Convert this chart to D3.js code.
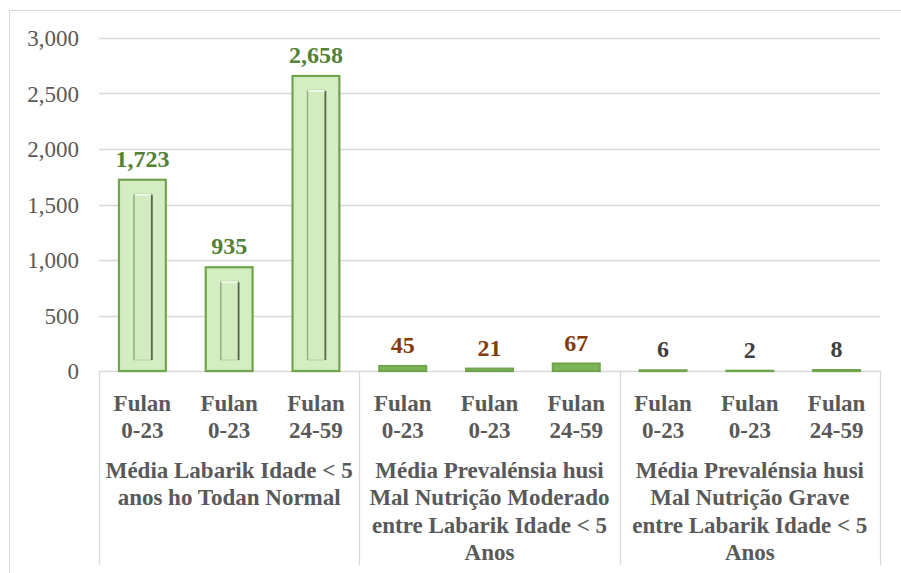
<!DOCTYPE html>
<html>
<head>
<meta charset="utf-8">
<script src="https://cdn.jsdelivr.net/npm/d3@7"></script>
<style>
  body { margin: 0; background: #fff; }
  svg { display: block; }
</style>
</head>
<body>
<div id="chart"></div>
<script>
// data
const barLabels = ["Fulan|0-23", "Fulan|0-23", "Fulan|24-59",
                   "Fulan|0-23", "Fulan|0-23", "Fulan|24-59",
                   "Fulan|0-23", "Fulan|0-23", "Fulan|24-59"];
const barValues = [1723, 935, 2658, 45, 21, 67, 6, 2, 8];
const groupOf = [0, 0, 0, 1, 1, 1, 2, 2, 2];
const groupLabels = [
  ["Média Labarik Idade < 5", "anos ho Todan Normal"],
  ["Média Prevalénsia husi", "Mal Nutrição Moderado", "entre Labarik Idade < 5", "Anos"],
  ["Média Prevalénsia husi", "Mal Nutrição Grave", "entre Labarik Idade < 5", "Anos"]
];
const yTicks = [0, 500, 1000, 1500, 2000, 2500, 3000];
const labelColors = ["#538135", "#843c0c", "#404040"];

const FONT = "'Liberation Serif'";
const W = 901, H = 573;
const margin = {left: 99, right: 21, top: 38, bottom: 202};
const plotW = W - margin.left - margin.right;
const plotH = H - margin.top - margin.bottom;

const svg = d3.select("#chart").append("svg")
  .attr("width", W).attr("height", H);

// chart border
svg.append("rect")
  .attr("x", 9.5).attr("y", 10.5)
  .attr("width", 900).attr("height", 600)
  .attr("fill", "none").attr("stroke", "#d9d9d9");

const x = d3.scaleBand()
  .domain(d3.range(barValues.length))
  .range([0, plotW])
  .paddingInner(0.46).paddingOuter(0.23);

const y = d3.scaleLinear().domain([0, 3000]).range([plotH, 0]);

const g = svg.append("g").attr("transform", `translate(${margin.left},${margin.top})`);

// grid
g.append("g").selectAll("line")
  .data(yTicks)
  .join("line")
  .attr("x1", 0).attr("x2", plotW)
  .attr("y1", d => Math.round(y(d)) + 0.5).attr("y2", d => Math.round(y(d)) + 0.5)
  .attr("stroke", "#d9d9d9").attr("stroke-width", 1.3);

// y axis labels
const yAxis = g.append("g")
  .attr("transform", "translate(-17,0)")
  .call(d3.axisLeft(y).tickValues(yTicks).tickSize(0).tickFormat(d3.format(",")));
yAxis.select(".domain").remove();
yAxis.selectAll("text")
  .style("font-family", FONT)
  .attr("dy", "0.34em")
  .attr("font-size", 23).attr("fill", "#595959");

// group separators below axis
const slot = plotW / barValues.length;
const bounds = [0, 3, 6, 9];
g.append("g").selectAll("line")
  .data(bounds)
  .join("line")
  .attr("x1", d => Math.round(d * slot) + 0.5).attr("x2", d => Math.round(d * slot) + 0.5)
  .attr("y1", plotH).attr("y2", plotH + 194)
  .attr("stroke", "#d9d9d9").attr("stroke-width", 1.3);

// bars
const bars = g.append("g").selectAll("g")
  .data(barValues.map((v, i) => ({v, i})))
  .join("g");

bars.append("rect")
  .attr("x", d => x(d.i))
  .attr("y", d => y(d.v))
  .attr("width", x.bandwidth())
  .attr("height", d => plotH - y(d.v))
  .attr("fill", d => groupOf[d.i] === 1 && d.v > 30 ? "#7cb458" : "#d4edc2")
  .attr("stroke", "#70a54c")
  .attr("stroke-width", 2.2);

// inner bevel on tall bars
const tall = bars.filter(d => plotH - y(d.v) > 40);
tall.append("rect")
  .attr("x", d => x(d.i) + 15)
  .attr("y", d => y(d.v) + 14)
  .attr("width", x.bandwidth() - 29)
  .attr("height", d => plotH - y(d.v) - 25)
  .attr("fill", "#d2ebbf")
  .attr("stroke", "#b4d19f").attr("stroke-width", 1);
tall.append("line")
  .attr("x1", d => x(d.i) + x.bandwidth() - 14)
  .attr("x2", d => x(d.i) + x.bandwidth() - 14)
  .attr("y1", d => y(d.v) + 15)
  .attr("y2", plotH - 11)
  .attr("stroke", "#56654f").attr("stroke-width", 1.8);
tall.append("line")
  .attr("x1", d => x(d.i) + 15)
  .attr("x2", d => x(d.i) + 15)
  .attr("y1", d => y(d.v) + 15)
  .attr("y2", plotH - 11)
  .attr("stroke", "#93ad84").attr("stroke-width", 1.4);
tall.append("line")
  .attr("x1", d => x(d.i) + 16)
  .attr("x2", d => x(d.i) + x.bandwidth() - 15)
  .attr("y1", d => y(d.v) + 15)
  .attr("y2", d => y(d.v) + 15)
  .attr("stroke", "#eef8e6").attr("stroke-width", 2);

// value labels
g.append("g").selectAll("text")
  .data(barValues)
  .join("text")
  .style("font-family", FONT)
  .attr("x", (d, i) => x(i) + x.bandwidth() / 2)
  .attr("y", d => y(d) - 13)
  .attr("text-anchor", "middle")
  .attr("font-size", 24).attr("font-weight", "bold")
  .attr("fill", (d, i) => labelColors[groupOf[i]])
  .text(d => d3.format(",")(d));

// category labels
const cat = g.append("g").selectAll("text")
  .data(barLabels)
  .join("text")
  .style("font-family", FONT)
  .attr("x", (d, i) => x(i) + x.bandwidth() / 2)
  .attr("y", plotH + 40)
  .attr("text-anchor", "middle")
  .attr("font-size", 23).attr("font-weight", "bold")
  .attr("fill", "#595959");
cat.selectAll("tspan")
  .data(d => d.split("|"))
  .join("tspan")
  .attr("x", function() { return d3.select(this.parentNode).attr("x"); })
  .attr("dy", (d, i) => i === 0 ? 0 : 26.5)
  .text(d => d);

// group labels
const grp = g.append("g").selectAll("text")
  .data(groupLabels)
  .join("text")
  .style("font-family", FONT)
  .attr("x", (d, i) => (i * 3 + 1.5) * slot)
  .attr("y", plotH + 107)
  .attr("text-anchor", "middle")
  .attr("font-size", 23).attr("font-weight", "bold")
  .attr("fill", "#595959");
grp.selectAll("tspan")
  .data(d => d)
  .join("tspan")
  .attr("x", function() { return d3.select(this.parentNode).attr("x"); })
  .attr("dy", (d, i) => i === 0 ? 0 : 27.3)
  .text(d => d);
</script>
</body>
</html>
